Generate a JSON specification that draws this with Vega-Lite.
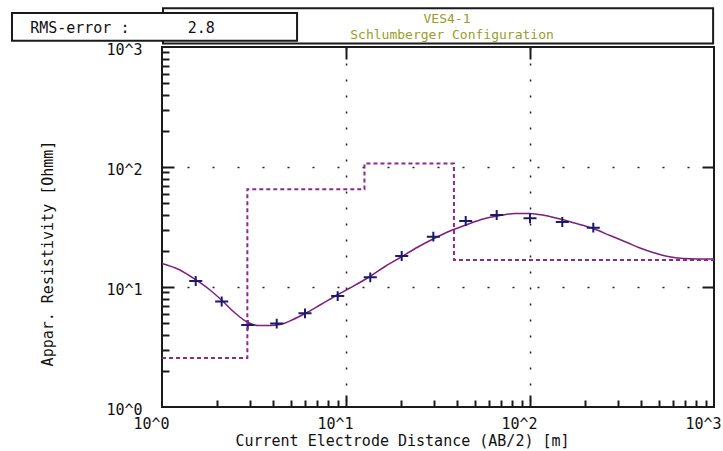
{
  "$schema": "https://vega.github.io/schema/vega-lite/v6.json",
  "width": 552,
  "height": 360,
  "autosize": {"type": "none"},
  "padding": {"left": 162, "top": 47, "right": 9, "bottom": 44},
  "background": "white",
  "config": {
    "font": "DejaVu Sans Mono",
    "view": {"stroke": "#1a1a1a", "strokeWidth": 2},
    "axis": {"labelFont": "DejaVu Sans Mono", "titleFont": "DejaVu Sans Mono", "labelColor": "#111", "titleColor": "#111", "tickColor": "#1a1a1a", "titleFontWeight": "normal"}
  },
  "datasets": {
    "curve": [
      {"ab2": 1, "rho": 15.7}, {"ab2": 1.252, "rho": 13.86}, {"ab2": 1.53, "rho": 11.44}, {"ab2": 1.823, "rho": 9.44},
      {"ab2": 2.119, "rho": 7.72}, {"ab2": 2.493, "rho": 6.07}, {"ab2": 2.934, "rho": 5.06}, {"ab2": 3.325, "rho": 4.78},
      {"ab2": 3.864, "rho": 4.78}, {"ab2": 4.378, "rho": 4.87}, {"ab2": 5.152, "rho": 5.36}, {"ab2": 5.986, "rho": 6.01},
      {"ab2": 7.223, "rho": 7.08}, {"ab2": 9.046, "rho": 8.66}, {"ab2": 10.51, "rho": 9.81}, {"ab2": 13.5, "rho": 12.23},
      {"ab2": 16.29, "rho": 14.82}, {"ab2": 20.15, "rho": 17.96}, {"ab2": 24.62, "rho": 21.54}, {"ab2": 29.71, "rho": 25.12},
      {"ab2": 36.74, "rho": 29.29}, {"ab2": 44.89, "rho": 32.87}, {"ab2": 55.53, "rho": 36.87}, {"ab2": 68.71, "rho": 39.43},
      {"ab2": 82.88, "rho": 40.98}, {"ab2": 100, "rho": 40.98}, {"ab2": 120.6, "rho": 39.43}, {"ab2": 149.3, "rho": 36.52},
      {"ab2": 182.4, "rho": 33.5}, {"ab2": 220, "rho": 30.72}, {"ab2": 272.2, "rho": 26.86}, {"ab2": 336.6, "rho": 23.49},
      {"ab2": 396.1, "rho": 21.13}, {"ab2": 466.1, "rho": 19.39}, {"ab2": 562.3, "rho": 17.96}, {"ab2": 678.4, "rho": 17.28},
      {"ab2": 818.5, "rho": 17.12}, {"ab2": 1000, "rho": 17.12}
    ],
    "obs": [
      {"ab2": 1.525, "rho": 11.22}, {"ab2": 2.111, "rho": 7.57}, {"ab2": 2.923, "rho": 4.83}, {"ab2": 4.202, "rho": 4.96},
      {"ab2": 5.986, "rho": 6.04}, {"ab2": 9.013, "rho": 8.41}, {"ab2": 13.55, "rho": 12.04}, {"ab2": 20.08, "rho": 18.13},
      {"ab2": 29.83, "rho": 26.25}, {"ab2": 44.73, "rho": 35.48}, {"ab2": 65.92, "rho": 39.81}, {"ab2": 100, "rho": 37.37},
      {"ab2": 149.8, "rho": 34.81}, {"ab2": 220.8, "rho": 31.2}
    ],
    "layers": [
      {"depth": 1, "rho": 2.56}, {"depth": 2.91, "rho": 65.2}, {"depth": 12.6, "rho": 107}, {"depth": 38.6, "rho": 16.8}, {"depth": 1000, "rho": 16.8}
    ]
  },
  "layer": [
    {
      "data": {"name": "curve"},
      "mark": {"type": "line", "color": "#7e1f7e", "strokeWidth": 1.5, "interpolate": "monotone"},
      "encoding": {
        "x": {"field": "ab2", "type": "quantitative", "scale": {"type": "log", "domain": [1, 1000], "nice": false},
          "axis": {"orient": "bottom", "values": [1, 10, 100, 1000], "ticks": false, "domain": false, "grid": false,
            "labelExpr": "'10^' + round(log(datum.value)/LN10)", "labelFontSize": 15, "labelPadding": 9, "labelOffset": -11, "labelFlush": false, "labelOverlap": false,
            "title": "Current Electrode Distance (AB/2) [m]", "titleFontSize": 15, "titleBaseline": "middle", "titleX": 240, "titleY": 33}},
        "y": {"field": "rho", "type": "quantitative", "scale": {"type": "log", "domain": [1, 1000], "nice": false},
          "axis": {"orient": "left", "values": [1, 10, 100, 1000], "ticks": false, "domain": false, "grid": false,
            "labelExpr": "'10^' + round(log(datum.value)/LN10)", "labelFontSize": 15, "labelPadding": 20, "labelOffset": 2, "labelFlush": false, "labelOverlap": false,
            "title": "Appar. Resistivity [Ohmm]", "titleFontSize": 15, "titleBaseline": "middle", "titleX": -115, "titleY": 206}}
      }
    },
    {
      "data": {"name": "obs"},
      "mark": {"type": "point", "shape": "M-1,0L1,0M0,-0.75L0,0.75", "filled": false, "stroke": "#1b1b6b", "strokeWidth": 2, "size": 170, "opacity": 1},
      "encoding": {
        "x": {"field": "ab2", "type": "quantitative", "scale": {"type": "log", "domain": [1, 1000], "nice": false},
          "axis": {"orient": "bottom", "values": [10, 100], "tickSize": -12, "tickWidth": 2, "labels": false, "domain": false, "grid": true,
            "gridColor": "#222", "gridDash": [2, 14], "gridWidth": 1.5, "title": null}},
        "y": {"field": "rho", "type": "quantitative", "scale": {"type": "log", "domain": [1, 1000], "nice": false},
          "axis": {"orient": "left", "values": [10, 100], "tickSize": -12, "tickWidth": 2, "labels": false, "domain": false, "grid": true,
            "gridColor": "#222", "gridDash": [2, 23], "gridWidth": 1.5, "title": null}}
      }
    },
    {
      "data": {"name": "layers"},
      "mark": {"type": "line", "color": "#8a2b8a", "strokeWidth": 2, "strokeDash": [4, 3], "interpolate": "step-after"},
      "encoding": {
        "x": {"field": "depth", "type": "quantitative", "scale": {"type": "log", "domain": [1, 1000], "nice": false},
          "axis": {"orient": "bottom", "values": [2, 3, 4, 5, 6, 7, 8, 9, 20, 30, 40, 50, 60, 70, 80, 90, 200, 300, 400, 500, 600, 700, 800, 900],
            "tickSize": -7, "tickWidth": 2, "labels": false, "domain": false, "grid": false, "title": null}},
        "y": {"field": "rho", "type": "quantitative", "scale": {"type": "log", "domain": [1, 1000], "nice": false},
          "axis": {"orient": "left", "values": [2, 3, 4, 5, 6, 7, 8, 9, 20, 30, 40, 50, 60, 70, 80, 90, 200, 300, 400, 500, 600, 700, 800, 900],
            "tickSize": -7, "tickWidth": 2, "labels": false, "domain": false, "grid": false, "title": null}}
      }
    },
    {
      "data": {"values": [{}]},
      "mark": {"type": "rect", "fill": "white", "stroke": "#1a1a1a", "strokeWidth": 2, "clip": false},
      "encoding": {
        "x": {"datum": 1.0126, "type": "quantitative", "scale": {"type": "log", "domain": [1, 1000], "nice": false},
          "axis": {"orient": "top", "values": [10, 100], "tickSize": -12, "tickWidth": 2, "labels": false, "domain": false, "grid": false, "title": null}},
        "x2": {"datum": 989},
        "y": {"datum": 2102, "type": "quantitative", "scale": {"type": "log", "domain": [1, 1000], "nice": false},
          "axis": {"orient": "right", "values": [10, 100], "tickSize": -12, "tickWidth": 2, "labels": false, "domain": false, "grid": false, "title": null}},
        "y2": {"datum": 1069}
      }
    },
    {
      "data": {"values": [{}]},
      "mark": {"type": "rect", "fill": "white", "stroke": "#1a1a1a", "strokeWidth": 2, "clip": false},
      "encoding": {
        "x": {"datum": 0.153, "type": "quantitative", "axis": null},
        "x2": {"datum": 5.42},
        "y": {"datum": 1919, "type": "quantitative", "axis": null},
        "y2": {"datum": 1129}
      }
    },
    {
      "data": {"values": [{}]},
      "mark": {"type": "text", "text": "RMS-error :", "align": "left", "baseline": "middle", "fontSize": 15, "font": "DejaVu Sans Mono", "color": "#111"},
      "encoding": {
        "x": {"datum": 0.192, "type": "quantitative", "axis": null},
        "y": {"datum": 1440, "type": "quantitative", "axis": null}
      }
    },
    {
      "data": {"values": [{}]},
      "mark": {"type": "text", "text": "2.8", "align": "left", "baseline": "middle", "fontSize": 15, "font": "DejaVu Sans Mono", "color": "#111"},
      "encoding": {
        "x": {"datum": 1.38, "type": "quantitative", "axis": null},
        "y": {"datum": 1440, "type": "quantitative", "axis": null}
      }
    },
    {
      "data": {"values": [{}]},
      "mark": {"type": "text", "text": "VES4-1", "align": "center", "baseline": "middle", "fontSize": 13, "font": "DejaVu Sans Mono", "color": "#9b9b2a"},
      "encoding": {
        "x": {"datum": 35.4, "type": "quantitative", "axis": null},
        "y": {"datum": 1700, "type": "quantitative", "axis": null}
      }
    },
    {
      "data": {"values": [{}]},
      "mark": {"type": "text", "text": "Schlumberger Configuration", "align": "center", "baseline": "middle", "fontSize": 13, "font": "DejaVu Sans Mono", "color": "#9b9b2a"},
      "encoding": {
        "x": {"datum": 37.7, "type": "quantitative", "axis": null},
        "y": {"datum": 1270, "type": "quantitative", "axis": null}
      }
    }
  ],
  "resolve": {"scale": {"x": "shared", "y": "shared"}, "axis": {"x": "independent", "y": "independent"}}
}
